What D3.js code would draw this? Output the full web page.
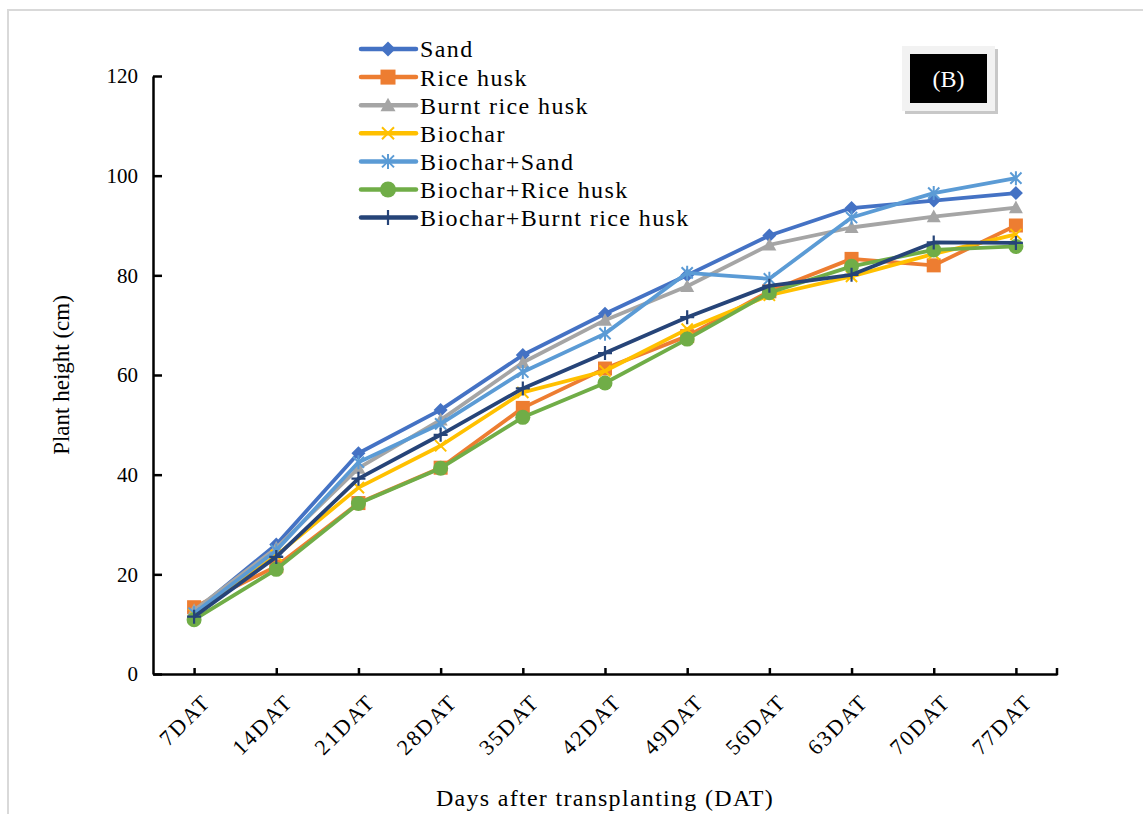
<!DOCTYPE html>
<html>
<head>
<meta charset="utf-8">
<script src="https://cdn.jsdelivr.net/npm/d3@7"></script>
<style>
  body { margin: 0; background: #fff; }
  text { font-family: "Liberation Serif", "Times New Roman", serif; fill: #000; }
</style>
</head>
<body>
<div id="chart"></div>
<script>
var categories = ["7DAT", "14DAT", "21DAT", "28DAT", "35DAT", "42DAT", "49DAT", "56DAT", "63DAT", "70DAT", "77DAT"];
var seriesNames = ["Sand", "Rice husk", "Burnt rice husk", "Biochar", "Biochar+Sand", "Biochar+Rice husk", "Biochar+Burnt rice husk"];

var sand          = [12.5, 26.0, 44.3, 53.0, 64.0, 72.3, 80.0, 88.0, 93.5, 95.0, 96.5];
var riceHusk      = [13.4, 21.6, 34.3, 41.4, 53.4, 61.3, 67.8, 76.8, 83.3, 82.0, 90.0];
var burntRiceHusk = [12.8, 25.3, 41.3, 51.0, 62.5, 71.0, 77.8, 86.1, 89.6, 91.8, 93.6];
var biochar       = [12.0, 23.8, 37.4, 45.8, 56.5, 60.8, 69.2, 76.0, 79.8, 84.3, 88.2];
var biocharSand   = [12.2, 24.8, 42.5, 50.2, 60.6, 68.3, 80.5, 79.3, 91.6, 96.5, 99.5];
var biocharRice   = [10.9, 21.0, 34.2, 41.3, 51.5, 58.4, 67.2, 76.5, 81.8, 85.1, 85.8];
var biocharBurnt  = [11.5, 23.5, 39.2, 48.0, 57.3, 64.4, 71.6, 77.9, 80.1, 86.6, 86.5];

var yTicks = [0, 20, 40, 60, 80, 100, 120];
var colors = ["#4472C4", "#ED7D31", "#A5A5A5", "#FFC000", "#5B9BD5", "#70AD47", "#264478"];
var markers = ["diamond", "square", "triangle", "x", "asterisk", "circle", "plus"];

var seriesValues = [sand, riceHusk, burntRiceHusk, biochar, biocharSand, biocharRice, biocharBurnt];

var W = 1143, H = 814;
var plot = { left: 153, right: 1057, top: 76, bottom: 674 };

var svg = d3.select("#chart").append("svg")
    .attr("width", W)
    .attr("height", H);

// light frame around the figure
svg.append("rect")
    .attr("x", 8).attr("y", 10)
    .attr("width", W + 10).attr("height", H + 10)
    .attr("fill", "none")
    .attr("stroke", "#d9d9d9")
    .attr("stroke-width", 2);

var x = d3.scalePoint()
    .domain(categories)
    .range([plot.left, plot.right])
    .padding(0.5);

var y = d3.scaleLinear()
    .domain([0, 120])
    .range([plot.bottom, plot.top]);

// y axis
var yAxis = svg.append("g")
    .attr("transform", "translate(" + plot.left + ",0)")
    .call(d3.axisLeft(y).tickValues(yTicks).tickSize(-9).tickPadding(15).tickSizeOuter(0));
yAxis.select(".domain").attr("stroke", "#000").attr("stroke-width", 2.5);
yAxis.selectAll(".tick line").attr("stroke", "#000").attr("stroke-width", 2.5);
yAxis.selectAll(".tick text")
    .attr("font-size", 21)
    .attr("font-family", "Liberation Serif")
    .attr("fill", "#000");

// x axis
var xAxis = svg.append("g")
    .attr("transform", "translate(0," + plot.bottom + ")")
    .call(d3.axisBottom(x).tickSize(-6).tickSizeOuter(0));
xAxis.select(".domain").attr("stroke", "#000").attr("stroke-width", 2.5);
xAxis.selectAll(".tick line").attr("stroke", "#000").attr("stroke-width", 2.5);
xAxis.selectAll(".tick text")
    .attr("font-size", 22)
    .attr("font-family", "Liberation Serif")
    .attr("letter-spacing", 2)
    .attr("fill", "#000")
    .attr("text-anchor", "end")
    .attr("transform", "translate(12,24) rotate(-45)")
    .attr("dy", "0.35em")
    .attr("y", 0);
// small end mark at the right of the x axis
svg.append("line")
    .attr("x1", plot.right).attr("x2", plot.right)
    .attr("y1", plot.bottom + 1).attr("y2", plot.bottom - 6)
    .attr("stroke", "#000").attr("stroke-width", 2.5);

// axis titles
svg.append("text")
    .attr("x", (plot.left + plot.right) / 2)
    .attr("y", 806)
    .attr("text-anchor", "middle")
    .attr("font-size", 24)
    .attr("letter-spacing", 1.3)
    .text("Days after transplanting (DAT)");

svg.append("text")
    .attr("transform", "translate(69," + ((plot.top + plot.bottom) / 2) + ") rotate(-90)")
    .attr("text-anchor", "middle")
    .attr("font-size", 23)
    .text("Plant height (cm)");

function drawMarker(g, type, color, s) {
    var h = s / 2;
    if (type === "diamond") {
        g.append("path").attr("d", "M0," + (-h) + "L" + h + ",0L0," + h + "L" + (-h) + ",0Z").attr("fill", color);
    } else if (type === "square") {
        g.append("rect").attr("x", -h).attr("y", -h).attr("width", s).attr("height", s).attr("fill", color);
    } else if (type === "triangle") {
        g.append("path").attr("d", "M0," + (-h) + "L" + h + "," + (h * 0.8) + "L" + (-h) + "," + (h * 0.8) + "Z").attr("fill", color);
    } else if (type === "circle") {
        g.append("circle").attr("r", h).attr("fill", color);
    } else if (type === "x") {
        var k = h * 0.8;
        g.append("path").attr("d", "M" + (-k) + "," + (-k) + "L" + k + "," + k + "M" + (-k) + "," + k + "L" + k + "," + (-k))
            .attr("stroke", color).attr("stroke-width", 2).attr("fill", "none");
    } else if (type === "asterisk") {
        var k2 = h * 0.8;
        g.append("path").attr("d", "M" + (-k2) + "," + (-k2) + "L" + k2 + "," + k2 + "M" + (-k2) + "," + k2 + "L" + k2 + "," + (-k2) + "M0," + (-h) + "L0," + h)
            .attr("stroke", color).attr("stroke-width", 2).attr("fill", "none");
    } else if (type === "plus") {
        g.append("path").attr("d", "M" + (-h) + ",0L" + h + ",0M0," + (-h) + "L0," + h)
            .attr("stroke", color).attr("stroke-width", 2.2).attr("fill", "none");
    }
}

var line = d3.line()
    .x(function (d, i) { return x(categories[i]); })
    .y(function (d) { return y(d); });

seriesValues.forEach(function (vals, si) {
    var g = svg.append("g");
    g.append("path")
        .datum(vals)
        .attr("d", line)
        .attr("fill", "none")
        .attr("stroke", colors[si])
        .attr("stroke-width", 3.8)
        .attr("stroke-linejoin", "round");
    vals.forEach(function (v, i) {
        var m = g.append("g").attr("transform", "translate(" + x(categories[i]) + "," + y(v) + ")");
        drawMarker(m, markers[si], colors[si], markers[si] === "circle" ? 15 : 14);
    });
});

// legend
var legend = svg.append("g");
seriesNames.forEach(function (name, i) {
    var ly = 49 + i * 28.1;
    var g = legend.append("g").attr("transform", "translate(0," + ly + ")");
    g.append("line")
        .attr("x1", 361).attr("x2", 416)
        .attr("y1", 0).attr("y2", 0)
        .attr("stroke", colors[i]).attr("stroke-width", 4.5)
        .attr("stroke-linecap", "round");
    var m = g.append("g").attr("transform", "translate(388,0)");
    drawMarker(m, markers[i], colors[i], markers[i] === "circle" ? 16 : 15);
    g.append("text")
        .attr("x", 420).attr("y", 0)
        .attr("dy", "0.35em")
        .attr("font-size", 24)
        .attr("letter-spacing", 1.4)
        .text(name);
});

// (B) label box
var bx = svg.append("g");
bx.append("rect").attr("x", 905).attr("y", 49).attr("width", 93).attr("height", 65).attr("fill", "#c8c8c8");
bx.append("rect").attr("x", 902).attr("y", 46).attr("width", 93).attr("height", 65).attr("fill", "#f2f2f2");
bx.append("rect").attr("x", 910).attr("y", 54).attr("width", 77).attr("height", 49).attr("fill", "#000");
bx.append("text")
    .attr("x", 948.5).attr("y", 79)
    .attr("dy", "0.35em")
    .attr("text-anchor", "middle")
    .attr("font-size", 24)
    .style("fill", "#fff")
    .text("(B)");
</script>
</body>
</html>
